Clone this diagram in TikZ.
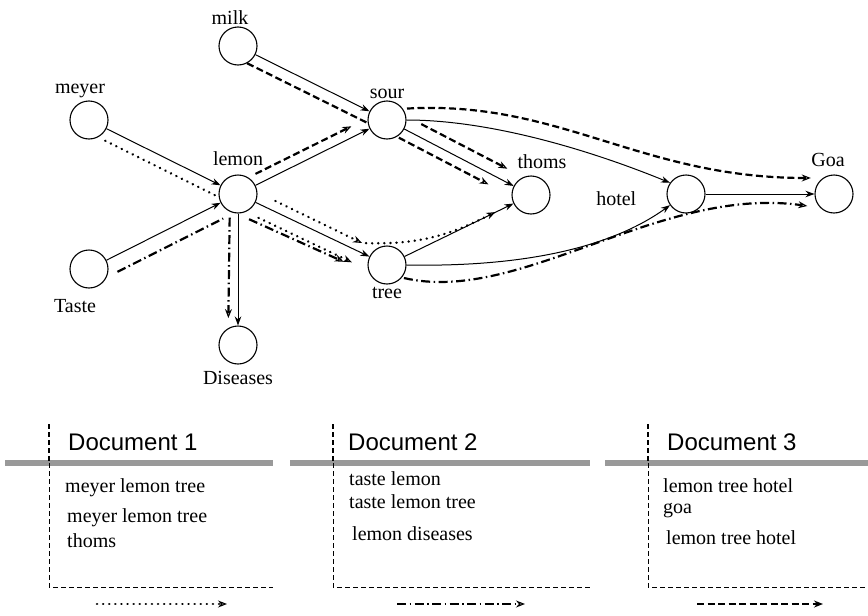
\documentclass[tikz,border=0pt]{standalone}
\usepackage{fontspec}
\setmainfont{Liberation Serif}
\setsansfont{Liberation Sans}
\usetikzlibrary{arrows.meta}

\begin{document}
\begin{tikzpicture}[x=1pt,y=-1pt,
   term/.style={draw,circle,minimum size=38pt,inner sep=0pt,line width=1.1pt},
   lbl/.style={font=\fontsize{20}{22}\selectfont,inner sep=2pt},
   link/.style={line width=1pt,-{Stealth[length=9pt,width=6.5pt]}},
   trail/.style={line width=2.2pt,-{Stealth[open,length=9pt,width=7pt,line width=1.1pt]}},
   doca/.style={trail,line width=2.6pt,dash pattern=on 0.1pt off 6pt,line cap=round},
   docb/.style={trail,dash pattern=on 9pt off 3.5pt on 1.5pt off 3.5pt},
   docc/.style={trail,dash pattern=on 7pt off 3.5pt},
   sepbar/.style={line width=6pt,black!40},
   frame/.style={line width=1pt,dash pattern=on 5pt off 3pt},
   dochead/.style={font=\sffamily\fontsize{24}{26}\selectfont,inner sep=0pt,anchor=base west},
   doctext/.style={font=\fontsize{20}{22}\selectfont,inner sep=0pt,anchor=base west}]
  \useasboundingbox (0,0) rectangle (868,616);

  \node[term,label={[lbl,xshift=-8pt]above:milk}] (milk) at (238,46) {};
  \node[term,label={[lbl,xshift=-9pt]above:meyer}] (meyer) at (89,120) {};
  \node[term,label={[lbl,xshift=-14pt,yshift=-9pt]below:Taste}] (taste) at (89,269) {};
  \node[term,label={[lbl,yshift=7pt]above:lemon}] (lemon) at (238,194) {};
  \node[term,label={[lbl]above:sour}] (sour) at (387,120) {};
  \node[term,label={[lbl,yshift=-5pt]below:Diseases}] (diseases) at (238,345) {};
  \node[term,label={[lbl]below:tree}] (tree) at (387,265) {};
  \node[term,label={[lbl,xshift=11pt,yshift=5pt]above:thoms}] (thoms) at (531,195) {};
  \node[term,label={[lbl,xshift=-28pt,yshift=-5pt]left:hotel}] (hotel) at (686,194) {};
  \node[term,label={[lbl,xshift=-6pt,yshift=6pt]above:Goa}] (goa) at (834,194) {};
  \coordinate (bend1) at (362,243);

  \draw[link] (milk) -- (sour);
  \draw[link] (meyer) -- (lemon);
  \draw[link] (taste) -- (lemon);
  \draw[link] (lemon) -- (sour);
  \draw[link] (lemon) -- (tree);
  \draw[link] (lemon) -- (diseases);
  \draw[link] (sour) -- (thoms);
  \draw[link] (tree) -- (thoms);
  \draw[link] (sour.east) .. controls (490,120) and (590,150) .. (hotel.145);
  \draw[link] (tree.east) .. controls (510,267) and (605,252) .. (hotel.-145);
  \draw[link] (hotel) -- (goa);

  \draw[doca,-,shorten <=8pt] (meyer.-62) -- (lemon.189);
  \draw[doca,shorten <=20pt] (lemon.5) -- (bend1);
  \draw[doca,shorten <=4pt,shorten >=20pt] (bend1) .. controls (425,245) and (455,232) .. (thoms.205);
  \draw[doca,shorten <=14pt,shorten >=18pt] (lemon.-66.6) -- (tree.195.6);

  \draw[docb,-,shorten <=12pt,shorten >=12pt] (taste.-25.4) -- (lemon.258.8);
  \draw[docb,shorten <=14pt,shorten >=28pt] (lemon.-95) -- (tree.205);
  \draw[docb,shorten <=6pt,shorten >=10pt] (lemon.-115) -- (diseases.120);
  \draw[docb,shorten <=2pt,shorten >=13pt] (tree.-40) .. controls (520,305) and (660,185) .. (goa.-135);

  \draw[docc,-] (milk.-62) -- (sour.189);
  \draw[docc,shorten <=8pt,shorten >=18pt] (lemon.58) -- (sour.175);
  \draw[docc,shorten <=17pt,shorten >=18pt] (sour.11.7) -- (thoms.113.3);
  \draw[docc,shorten <=2pt,shorten >=26pt] (sour.-59.3) -- (thoms.184.3);
  \draw[docc,shorten <=4pt,shorten >=12pt] (sour.35) .. controls (560,100) and (640,178) .. (goa.125);

  \foreach \l/\r/\v in {5/273/49, 290/590/333, 605/868/648} {
    \draw[sepbar] (\l,463) -- (\r,463);
    \draw[frame,line width=1.8pt] (\v,424) -- (\v,463);
    \draw[frame] (\v,463) -- (\v,587) -- (\r,587);
  }

  \node[dochead] (head1) at (68,450) {Document 1};
  \node[dochead] (head2) at (348,450) {Document 2};
  \node[dochead] (head3) at (667,450) {Document 3};

  \node[doctext] (t1a) at (65,492) {meyer lemon tree};
  \node[doctext] (t1b) at (67,522) {meyer lemon tree};
  \node[doctext] (t1c) at (67,547) {thoms};
  \node[doctext] (t2a) at (349,485) {taste lemon};
  \node[doctext] (t2b) at (349,508) {taste lemon tree};
  \node[doctext] (t2c) at (352,540) {lemon diseases};
  \node[doctext] (t3a) at (663,492) {lemon tree hotel};
  \node[doctext] (t3b) at (663,513) {goa};
  \node[doctext] (t3c) at (666,544) {lemon tree hotel};

  \coordinate (k1s) at (97,604);  \coordinate (k1e) at (227,604);
  \coordinate (k2s) at (397,604); \coordinate (k2e) at (525,604);
  \coordinate (k3s) at (697,604); \coordinate (k3e) at (823,604);
  \draw[doca] (k1s) -- (k1e);
  \draw[docb] (k2s) -- (k2e);
  \draw[docc,-{Stealth[length=9pt,width=7pt]}] (k3s) -- (k3e);
\end{tikzpicture}
\end{document}
